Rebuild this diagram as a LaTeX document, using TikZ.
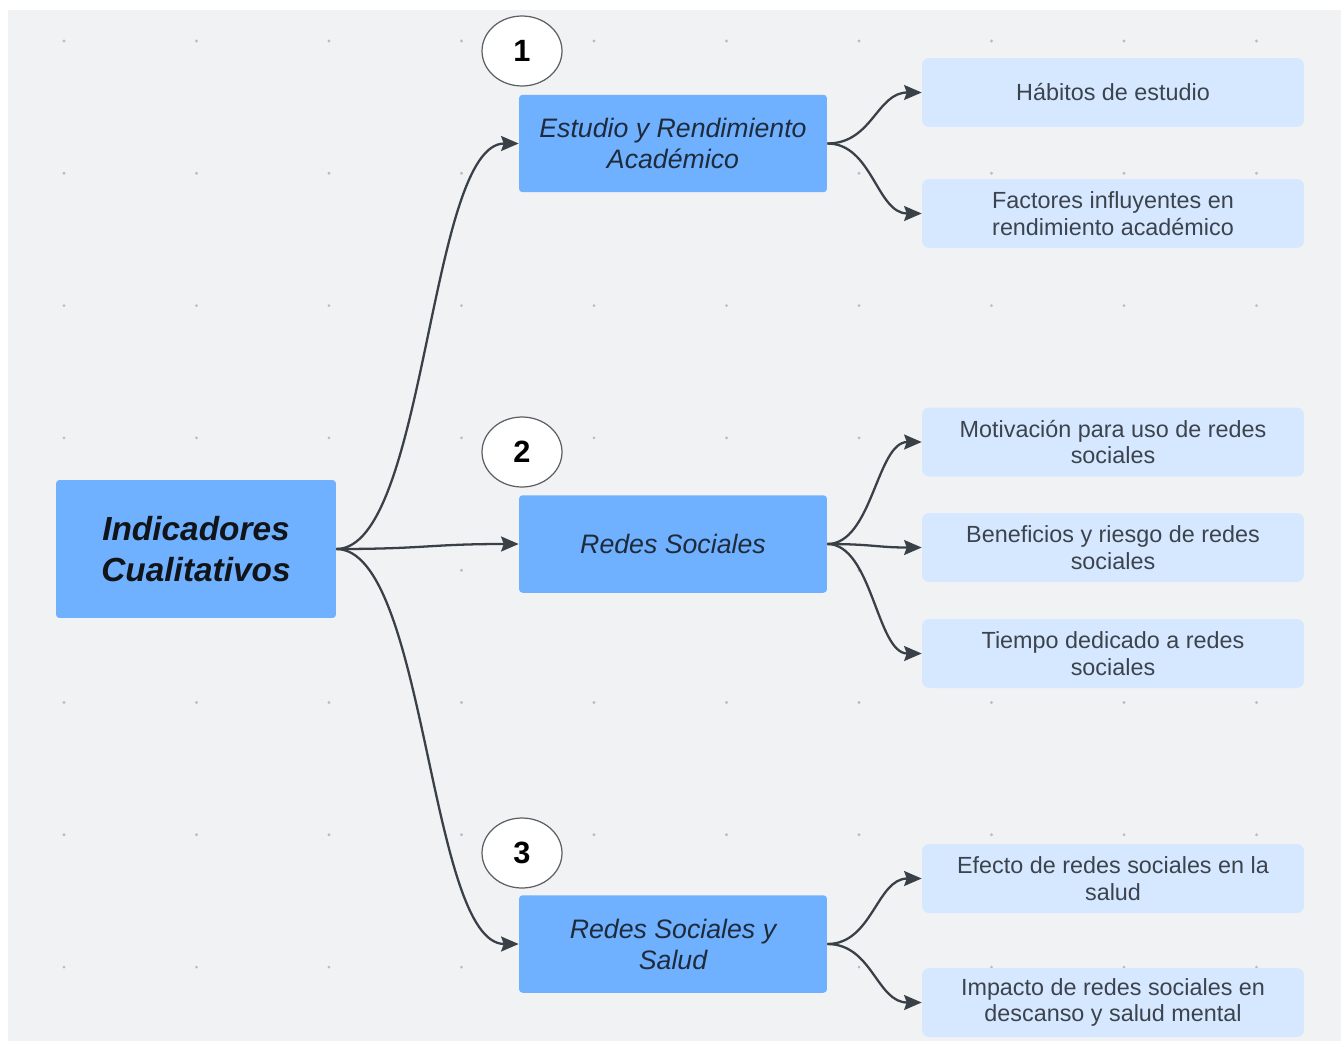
\documentclass[tikz,border=0pt]{standalone}
\usepackage{fontspec}
\setmainfont{Liberation Sans}
\usepackage{xcolor}
\usetikzlibrary{shapes,arrows,arrows.meta,positioning,fit,backgrounds,calc}

\definecolor{canvas}{HTML}{F1F2F4}
\definecolor{gridgray}{HTML}{B9BDC3}
\definecolor{mainblue}{HTML}{6FB0FF}
\definecolor{paleblue}{HTML}{D6E8FF}
\definecolor{rootink}{HTML}{111418}
\definecolor{topicink}{HTML}{1F2B3B}
\definecolor{itemink}{HTML}{3C434D}
\definecolor{wire}{HTML}{3A4048}
\definecolor{badgeline}{HTML}{5C5F63}

\begin{document}
\begin{tikzpicture}[
    x=0.02cm, y=-0.02cm,
    root/.style={fill=mainblue, rounded corners=2pt, minimum width=5.6cm, minimum height=2.76cm, align=center, text=rootink, font=\fontsize{19}{23}\selectfont\bfseries\itshape},
    topic/.style={fill=mainblue, rounded corners=2pt, minimum width=6.16cm, minimum height=1.95cm, align=center, text=topicink, font=\fontsize{15.2}{17.6}\selectfont\itshape},
    item/.style={fill=paleblue, rounded corners=4pt, minimum width=7.64cm, minimum height=1.38cm, align=center, text=itemink, font=\fontsize{13.3}{15}\selectfont},
    badge/.style={ellipse, draw=badgeline, line width=0.7pt, fill=white, minimum width=1.6cm, minimum height=1.4cm, inner sep=0pt, font=\fontsize{17.5}{20}\selectfont\bfseries},
    conn/.style={draw=wire, line width=1.3pt, -{Stealth[length=10pt,width=8.5pt,inset=1.5pt]}}
]
\useasboundingbox (0,0) rectangle (1341,1041);
\fill[canvas] (8,10) rectangle (1341,1041);
\foreach \i in {0,...,9}
    \foreach \j in {0,...,7}
        \fill[gridgray] (64+132.5*\i, 41+132.3*\j) circle[radius=0.9pt];

\node[root] (main) at (196,549) {Indicadores\\Cualitativos};

\node[topic] (study) at (673,143.5) {Estudio y Rendimiento\\Académico};
\node[topic] (social) at (673,544) {Redes Sociales};
\node[topic] (health) at (673,944) {Redes Sociales y\\Salud};

\node[badge] (b1) at (522,51) {1};
\node[badge] (b2) at (522,452) {2};
\node[badge] (b3) at (522,853) {3};

\node[item] (habits) at (1113,92.5) {Hábitos de estudio};
\node[item] (factors) at (1113,213.5) {Factores influyentes en\\rendimiento académico};
\node[item] (motive) at (1113,442) {Motivación para uso de redes\\sociales};
\node[item] (risk) at (1113,547.5) {Beneficios y riesgo de redes\\sociales};
\node[item] (time) at (1113,653.5) {Tiempo dedicado a redes\\sociales};
\node[item] (effect) at (1113,878.5) {Efecto de redes sociales en la\\salud};
\node[item] (impact) at (1113,1002.5) {Impacto de redes sociales en\\descanso y salud mental};

\draw[conn] (main.east) .. controls +(90,0) and +(-90,0) .. (study.west);
\draw[conn] (main.east) .. controls +(90,0) and +(-90,0) .. (social.west);
\draw[conn] (main.east) .. controls +(90,0) and +(-90,0) .. (health.west);

\draw[conn] (study.east) .. controls +(45,0) and +(-45,0) .. (habits.west);
\draw[conn] (study.east) .. controls +(45,0) and +(-45,0) .. (factors.west);
\draw[conn] (social.east) .. controls +(45,0) and +(-45,0) .. (motive.west);
\draw[conn] (social.east) .. controls +(45,0) and +(-45,0) .. (risk.west);
\draw[conn] (social.east) .. controls +(45,0) and +(-45,0) .. (time.west);
\draw[conn] (health.east) .. controls +(45,0) and +(-45,0) .. (effect.west);
\draw[conn] (health.east) .. controls +(45,0) and +(-45,0) .. (impact.west);
\end{tikzpicture}
\end{document}
